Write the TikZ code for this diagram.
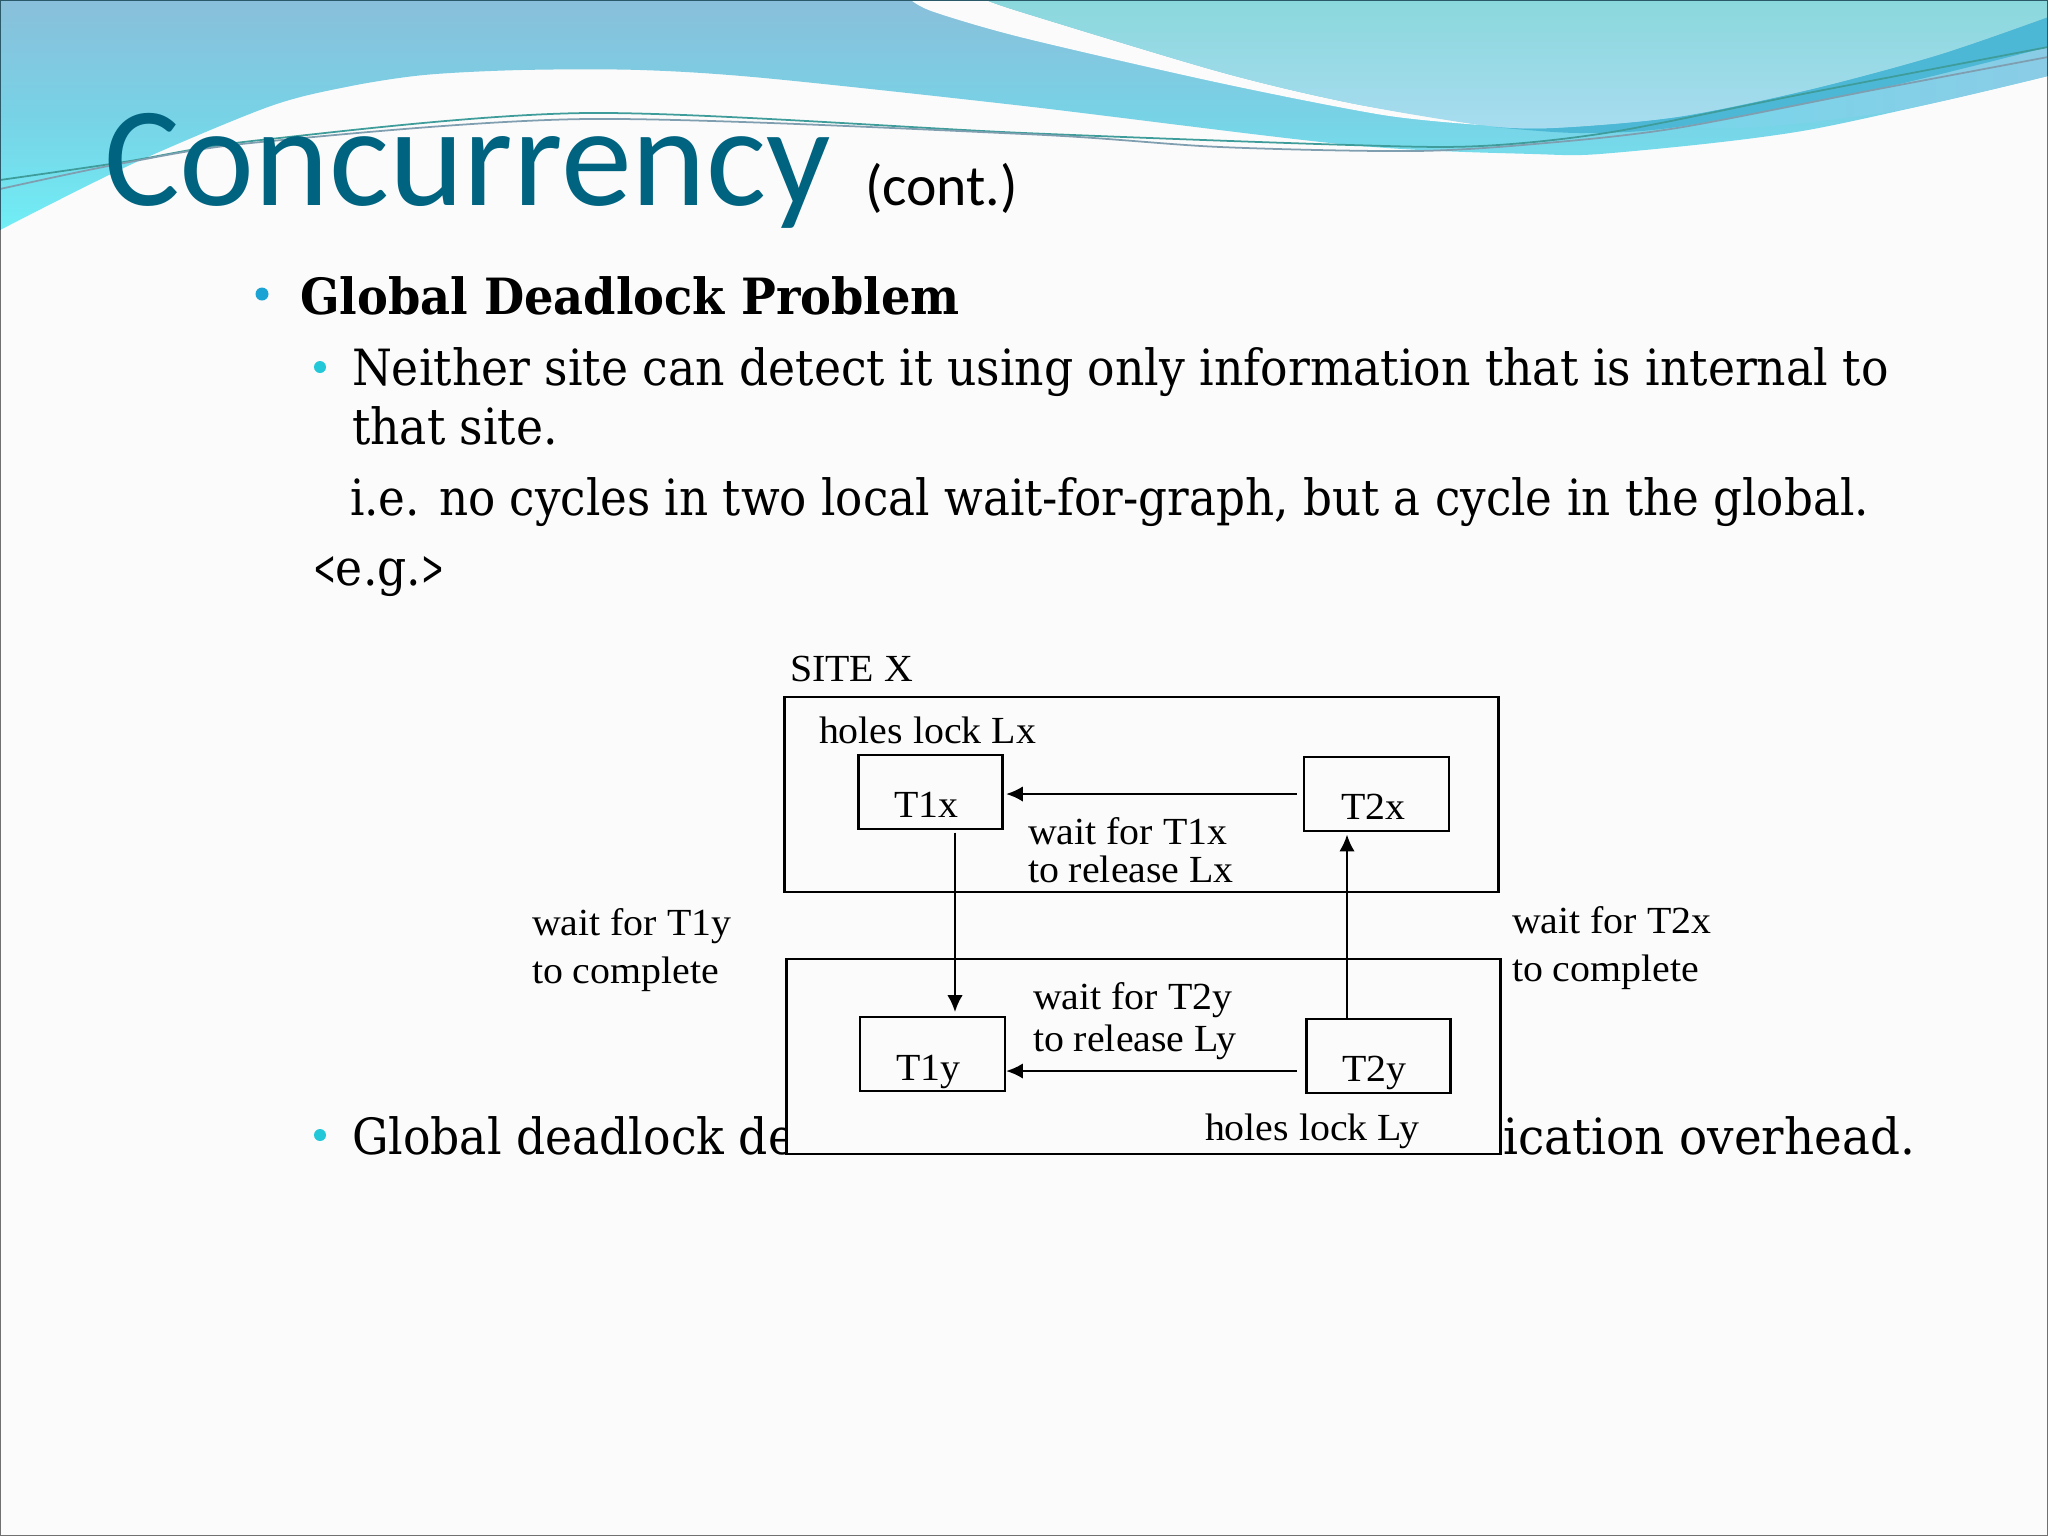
\documentclass[tikz,border=0pt]{standalone}
\usepackage{fontspec}
\usepackage{graphicx}
\usetikzlibrary{arrows.meta}
\newfontfamily\titlef{Carlito}
\newfontfamily\bodyf{DejaVu Serif}[FakeStretch=0.915]
\newfontfamily\diagf{Liberation Serif}[FakeStretch=1.04]
\definecolor{bg}{HTML}{FBFBFB}
\definecolor{titlecol}{HTML}{00637F}
\definecolor{wavetop}{HTML}{89BFDA}
\definecolor{wavemid}{HTML}{78D2E6}
\definecolor{wavebot}{HTML}{70EEF6}
\definecolor{banddark}{HTML}{4DB8D6}
\definecolor{bandliteA}{HTML}{78D6EA}
\definecolor{bandliteB}{HTML}{8ACCE6}
\definecolor{lighttop}{HTML}{8AD8DC}
\definecolor{lightbot}{HTML}{A8DCF0}
\definecolor{wireA}{HTML}{3E9C9A}
\definecolor{wireB}{HTML}{7F9FB0}
\definecolor{framecol}{HTML}{2A5A6A}
\definecolor{framegrey}{HTML}{707070}
\definecolor{bulA}{HTML}{1BA3D4}
\definecolor{bulB}{HTML}{22C8D8}
\tikzset{
  txt/.style={anchor=base west,inner sep=0pt,outer sep=0pt,text=black},
  titletxt/.style={txt,text=titlecol,font=\titlef\fontsize{40.4}{40.4}\selectfont},
  conttxt/.style={txt,font=\titlef\fontsize{16.4}{16.4}\selectfont},
  headtxt/.style={txt,font=\bodyf\bfseries\fontsize{14.2}{14.2}\selectfont},
  bodytxt/.style={txt,font=\bodyf\fontsize{14.2}{14.2}\selectfont},
  dtxt/.style={txt,font=\diagf\fontsize{10.9}{10.9}\selectfont},
  sitebox/.style={draw=black,fill=bg,line width=0.8pt,inner sep=0pt,outer sep=0pt},
  tbox/.style={draw=black,fill=bg,line width=0.75pt,inner sep=0pt,outer sep=0pt,minimum height=0.74cm},
  arr/.style={draw=black,line width=0.65pt,-{Latex[length=4.8pt,width=4.4pt]}},
  wire/.style={line width=0.5pt},
}
\begin{document}
\begin{tikzpicture}[x=0.01cm,y=-0.01cm]
\useasboundingbox (0,0) rectangle (2048,1536);
\fill[bg] (0,0) rectangle (2048,1536);
% main wave band
\shade[top color=wavetop,bottom color=wavebot,middle color=wavemid]
  (0,0) -- (2048,0) -- plot[smooth] coordinates {(2048,76) (1808,130) (1612,153) (1533,154) (1350,145) (1024,106) (764,78) (640,70) (522,70) (424,75) (346,87) (268,107) (130,165) (0,230)} -- cycle;
% paler right band under the dark one
\shade[left color=bandliteA,right color=bandliteB]
  plot[smooth] coordinates {(1680,127) (1873,90) (2048,47)} -- plot[smooth] coordinates {(2048,76) (1900,110) (1760,127) (1680,127)} -- cycle;
% darker right band
\fill[banddark] plot[smooth] coordinates {(1494,127) (1553,128) (1677,117) (1808,90) (1938,55) (2048,17)}
  -- plot[smooth] coordinates {(2048,47) (1873,90) (1677,127) (1579,133) (1494,127)} -- cycle;
% white swoosh
\fill[bg] (911,0) -- plot[smooth] coordinates {(986,0) (1024,13) (1220,72) (1350,103) (1481,125)}
  -- plot[smooth] coordinates {(1481,125) (1383,115) (1220,83) (1024,38) (934,12) (911,0)} -- cycle;
% light region
\shade[top color=lighttop,bottom color=lightbot]
  plot[smooth] coordinates {(986,0) (1024,13) (1220,72) (1350,103) (1481,125) (1553,128) (1677,117) (1808,90) (1938,55) (2048,17)} -- (2048,0) -- cycle;
% thin lines
\draw[wire,draw=wireA] plot[smooth] coordinates {(0,180) (124,162) (261,140) (588,113) (1024,133) (1350,145) (1481,146) (1612,132) (1808,93) (2048,47)};
\draw[wire,draw=wireB] plot[smooth] coordinates {(0,189) (124,163) (261,142) (588,119) (1024,134) (1220,147) (1416,151) (1546,143) (1677,128) (1873,90) (2048,57)};
% frame
\draw[draw=framegrey,line width=0.5pt] (0,230) -- (0,1536) -- (2048,1536) -- (2048,76);
\draw[draw=framecol,line width=0.6pt] (0,230) -- (0,0) -- (2048,0) -- (2048,76);
% text
\node[titletxt] (title) at (104,205) {Concurrency};
\node[conttxt] (cont) at (865,205) {(cont.)};
\fill[bulA] (262,294) circle (6.5);
\node[headtxt] (head) at (300,314) {\scalebox{1.014}[1]{Global Deadlock Problem}};
\fill[bulB] (320,367) circle (6);
\node[bodytxt] (l1) at (352,385) {Neither site can detect it using only information that is internal to};
\node[bodytxt] (l2) at (352,444) {that site.};
\node[bodytxt] (l3) at (350,515) {\scalebox{0.99}[1]{i.e. no cycles in two local wait-for-graph, but a cycle in the global.}};
\node[bodytxt] (l4) at (313,585) {\scalebox{0.6}[1]{<}e.g.\scalebox{0.6}[1]{>}};
\fill[bulB] (320,1135) circle (6);
\node[bodytxt] (l5a) at (352,1154) {Global deadlock de};
\node[bodytxt,anchor=base east] (l5b) at (1915,1154) {\scalebox{1.025}[1]{ication overhead.}};
% diagram
\node[dtxt] (site) at (790,681) {SITE X};
\node[sitebox,minimum width=7.13cm,minimum height=1.95cm] (sx) at (1141.5,794.5) {};
\node[sitebox,minimum width=7.13cm,minimum height=1.95cm] (sy) at (1143.5,1056.5) {};
\node[tbox,minimum width=1.44cm] (t1x) at (930.5,792) {};
\node[tbox,minimum width=1.45cm] (t2x) at (1376.5,794) {};
\node[tbox,minimum width=1.45cm] (t1y) at (932.5,1054) {};
\node[tbox,minimum width=1.44cm] (t2y) at (1378.5,1056) {};
\node[dtxt] (lx) at (819,743.5) {holes lock Lx};
\node[dtxt] (t1xl) at (894,817) {T1x};
\node[dtxt] (t2xl) at (1341,819) {T2x};
\node[dtxt] (w1) at (1028,844) {wait for T1x};
\node[dtxt] (w2) at (1028,882) {to release Lx};
\node[dtxt] (w3) at (532,935) {wait for T1y};
\node[dtxt] (w4) at (532,983) {to complete};
\node[dtxt] (w5) at (1512,933) {wait for T2x};
\node[dtxt] (w6) at (1512,981) {to complete};
\node[dtxt] (w7) at (1033,1009) {wait for T2y};
\node[dtxt] (w8) at (1033,1051) {to release Ly};
\node[dtxt] (t1yl) at (896,1080) {T1y};
\node[dtxt] (t2yl) at (1342,1081) {T2y};
\node[dtxt] (ly) at (1205,1140) {holes lock Ly};
\coordinate (vl) at (955,0);
\coordinate (vr) at (1347,0);
\coordinate (hl) at (0,1071);
\draw[arr,shorten <=2pt,shorten >=1pt] (t2x.west) -- (t2x.west -| t1x.east);
\draw[arr,shorten <=2.8pt,shorten >=0.3pt] (hl -| t2y.west) -- (hl -| t1y.east);
\draw[arr,shorten <=1pt,shorten >=1.4pt] (vl |- t1x.south) -- (vl |- t1y.north);
\draw[arr,shorten >=1pt] (vr |- t2y.north) -- (vr |- t2x.south);
\end{tikzpicture}
\end{document}
